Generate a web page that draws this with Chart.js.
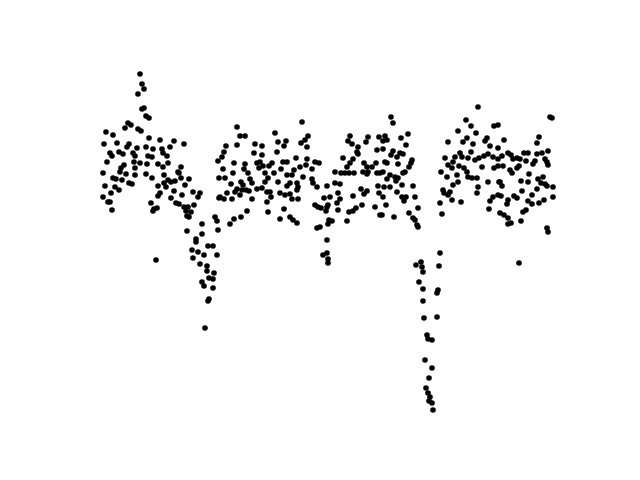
<!DOCTYPE html>
<html>
<head>
<meta charset="utf-8">
<script src="https://cdn.jsdelivr.net/npm/chart.js@4/dist/chart.umd.min.js"></script>
<style>
  html, body { margin: 0; padding: 0; background: #fff; }
  canvas { display: block; }
</style>
</head>
<body>
<canvas id="lightcurve" width="640" height="480"></canvas>
<script>
// light curve: time (arbitrary units) and relative flux
const timeValues = [
  40,42,44,38,44,42,46,49,28,31,25,38,41,6,13,49,4,17,29,27,37,46,53,19,23,10,12,33,35,48,52,7,40,47,34,24,21,35,26,20,3,13,16,22,46,52,35,29,32,5,15,19,11,3,8,10,51,12,54,53,
  60,74,84,70,62,63,67,68,58,63,81,78,79,64,89,81,68,71,75,64,66,85,58,74,93,100,60,58,71,82,98,76,79,94,84,88,86,57,91,87,89,102,87,96,96,102,92,98,108,113,104,117,93,100,107,107,114,109,113,102,104,113,109,108,105,56,115,117,118,
  118,119,119,137,140,145,137,126,155,162,124,122,154,162,134,145,157,160,163,123,133,144,148,159,165,125,150,141,131,143,152,165,137,142,146,149,157,162,127,135,167,140,120,124,132,152,167,147,141,134,130,
  202,175,208,205,201,207,178,186,184,177,196,207,215,219,183,187,172,169,200,206,181,194,212,174,187,192,203,168,212,178,190,197,213,187,198,217,227,197,170,180,185,190,171,192,198,224,215,218,221,227,168,184,226,190,180,193,197,217,220,228,227,223,227,228,228,
  250,248,252,268,266,279,258,257,258,277,243,253,250,247,264,276,267,272,235,241,245,249,254,263,268,277,280,267,235,240,261,267,278,238,230,240,253,264,279,237,228,262,275,256,249,238,253,280,229,232,247,
  291,293,285,287,283,301,308,306,283,293,300,303,291,297,312,311,285,287,298,309,283,290,295,298,303,305,287,296,302,313,284,290,297,306,302,304,315,283,286,318,309,282,294,313,315,317,318,
  340,316,321,322,323,339,319,323,338,337,323,324,337,327,328,332,325,332,329,326,328,330,329,332,333,
  378,366,371,358,394,376,348,367,363,387,385,373,390,398,371,360,355,345,362,379,384,388,393,375,368,353,348,359,364,382,394,341,352,367,357,368,372,377,347,388,399,358,353,378,343,350,344,348,377,352,361,393,398,390,340,389,342,400,
  398,450,452,404,439,437,408,411,424,428,437,442,448,402,417,420,413,398,426,435,445,447,433,448,398,403,419,410,417,429,412,438,443,421,428,441,445,447,453,400,402,437,422,401,414,417,432,453,408,428,444,439,407,432,426,423,404,408,411,408,421,447,448,419
];
const fluxValues = [
  176,166,161,156,142,141,134,132,127,125,122,121,119,118,115,112,106,107,106,103,102,103,101,98,96,97,94,97,94,94,93,88,87,86,88,85,82,82,76,78,77,72,71,70,76,72,75,67,66,64,63,60,57,53,48,48,47,40,41,39,
  110,109,106,103,101,97,94,87,86,83,83,78,77,75,71,72,70,68,69,67,63,65,64,59,58,57,57,54,52,55,53,47,46,45,43,43,39,42,38,34,33,26,19,11,8,16,0,-2,4,4,-5,-5,-8,-14,-16,-21,-23,-28,-29,-32,-36,-38,-49,-51,-78,-10,33,29,20,
  89,72,52,123,114,114,105,104,106,104,98,93,97,95,87,86,87,88,84,81,77,81,77,82,77,72,71,68,66,65,67,68,61,60,60,59,61,62,57,58,58,55,53,51,51,51,48,39,33,31,26,
  128,117,114,110,107,103,108,109,104,98,92,91,88,87,88,88,87,84,83,85,81,80,81,77,75,75,73,72,71,68,67,67,67,64,63,63,64,60,58,57,55,56,53,51,51,52,45,43,42,43,38,41,39,33,31,30,27,22,23,26,10,-5,-3,-9,-13,
  114,109,106,113,108,113,103,98,96,100,92,91,87,83,87,87,83,83,78,77,77,77,77,78,78,77,77,76,67,66,61,59,64,57,53,51,54,56,57,47,45,45,43,42,38,40,39,35,30,29,29,
  133,127,114,110,109,112,116,105,101,99,97,96,95,93,90,87,88,87,86,83,78,75,73,72,77,78,71,69,65,64,63,63,58,53,53,49,53,53,45,42,37,35,33,32,30,25,23,
  -3,-15,-12,-17,-22,-16,-32,-39,-40,-43,-51,-68,-67,-85,-89,-90,-110,-118,-128,-138,-143,-147,-151,-153,-160,
  143,130,124,119,124,117,108,112,108,112,109,106,104,102,98,97,93,92,93,92,94,96,93,90,92,88,85,84,82,83,82,78,82,78,75,73,72,72,73,68,68,68,65,63,60,58,57,55,57,50,48,53,55,49,47,41,36,37,
  125,133,132,110,113,107,97,95,97,97,96,97,99,94,92,91,91,91,89,89,91,88,86,85,84,84,84,80,82,76,77,71,73,69,68,67,66,64,63,68,64,61,59,54,54,52,55,53,50,49,50,47,46,46,40,38,35,32,27,26,29,22,18,-13
];

const points = timeValues.map((t, i) => ({ x: t, y: fluxValues[i] }));

const ctx = document.getElementById('lightcurve').getContext('2d');
new Chart(ctx, {
  type: 'scatter',
  data: {
    datasets: [{
      data: points,
      backgroundColor: '#000000',
      borderWidth: 0,
      pointRadius: 2.8,
      pointHoverRadius: 2.8
    }]
  },
  options: {
    responsive: false,
    animation: false,
    layout: { padding: { left: 80, right: 64, top: 58, bottom: 53 } },
    plugins: {
      legend: { display: false },
      tooltip: { enabled: false }
    },
    scales: {
      x: { type: 'linear', min: -20, max: 476, display: false },
      y: { type: 'linear', min: -177, max: 192, display: false }
    }
  }
});
</script>
</body>
</html>
